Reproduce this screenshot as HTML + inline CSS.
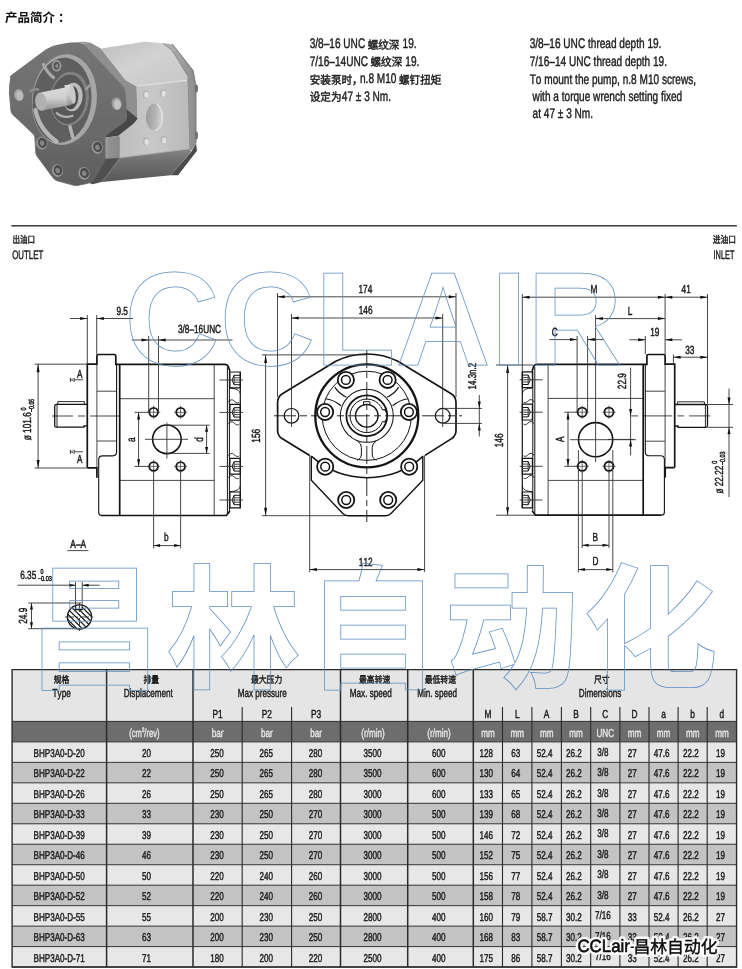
<!DOCTYPE html>
<html><head><meta charset="utf-8"><title>BHP3A0</title>
<style>
html,body{margin:0;padding:0;background:#fff}
body{width:742px;height:969px;overflow:hidden;position:relative;font-family:"Liberation Sans","Noto Sans CJK SC",sans-serif}
svg{position:absolute;left:0;top:0;display:block}
svg text{font-family:"Liberation Sans","Noto Sans CJK SC",sans-serif;font-kerning:none;white-space:pre;text-rendering:geometricPrecision;stroke-width:.45px;paint-order:stroke}
svg{will-change:transform}
</style></head><body>
<svg width="742" height="969" viewBox="0 0 742 969">
<desc>产品简介： 螺纹深 安装泵时，螺钉扭矩 设定为 出油口 进油口 规格 排量 最大压力 最高转速 最低转速 尺寸 CCLAIR 昌林自动化</desc>
<rect width="742" height="969" fill="#fff"/>
<g id="pump">
<defs>
<filter id="pb" x="-5%" y="-5%" width="110%" height="110%"><feGaussianBlur stdDeviation=".55"/></filter>
<linearGradient id="gTop" x1="0" y1="0" x2="1" y2="1"><stop offset="0" stop-color="#bdbdbd"/><stop offset=".45" stop-color="#d2d2d2"/><stop offset="1" stop-color="#c6c6c6"/></linearGradient>
<linearGradient id="gSide" x1="0" y1="0" x2="1" y2="0"><stop offset="0" stop-color="#bdbdbd"/><stop offset=".5" stop-color="#c8c8c8"/><stop offset="1" stop-color="#bababa"/></linearGradient>
<linearGradient id="gCov" x1="0" y1="0" x2="1" y2="0"><stop offset="0" stop-color="#b8b8b8"/><stop offset="1" stop-color="#8c8c8c"/></linearGradient>
<linearGradient id="gCh" x1="0" y1="0" x2="0" y2="1"><stop offset="0" stop-color="#858585"/><stop offset=".3" stop-color="#737373"/><stop offset="1" stop-color="#585858"/></linearGradient>
<linearGradient id="gFl" x1="0" y1="0" x2="0" y2="1"><stop offset="0" stop-color="#757575"/><stop offset=".6" stop-color="#6a6a6a"/><stop offset="1" stop-color="#5e5e5e"/></linearGradient>
<linearGradient id="gSh" x1="0" y1="0" x2="0" y2="1"><stop offset="0" stop-color="#dcdcdc"/><stop offset=".45" stop-color="#cfcfcf"/><stop offset="1" stop-color="#8e8e8e"/></linearGradient>
<linearGradient id="gPort" x1="0" y1="0" x2="1" y2="0"><stop offset="0" stop-color="#9c9c9c"/><stop offset=".55" stop-color="#b4b4b4"/><stop offset="1" stop-color="#dadada"/></linearGradient>
<radialGradient id="gBolt"><stop offset="0" stop-color="#8a8a8a"/><stop offset=".45" stop-color="#7c7c7c"/><stop offset=".55" stop-color="#4e4e4e"/><stop offset=".8" stop-color="#565656"/><stop offset="1" stop-color="#8a8a8a"/></radialGradient>
</defs>
<g filter="url(#pb)"><polygon points="163,43.2 172.4,44.2 193.2,70.6 196,86.6 196,143.2 191.3,150.8 189.4,148.9 187.5,80.9 188.5,77.2 172.5,50.8" fill="url(#gCov)"/><ellipse cx="196.4" cy="88.5" rx="1.6" ry="4" fill="#6a6a6a"/><ellipse cx="196.4" cy="135.6" rx="1.6" ry="4" fill="#6a6a6a"/><polygon points="191.3,151.7 196,143.2 197,150.8 178.1,175.3 170.6,175.3" fill="#4c4c4c"/><polygon points="97.9,48.9 144.2,41.7 163,43.2 172.5,50.8 188.5,77.2 187.5,80.9 136.6,86.6 125.3,80" fill="url(#gTop)"/><path d="M136.6 86.2L187.6 80.4" stroke="#dedede" stroke-width="1.6" fill="none"/><path d="M163 43.2L172.5 50.8L188.5 77.2L187.5 80.9L189.4 148.9" stroke="#7e7e7e" stroke-width=".9" fill="none"/><path d="M185.4 82L187 148.6" stroke="#d2d2d2" stroke-width="1.6" fill="none"/><path d="M172.4 44.2L193.2 70.6L196 86.6V143.2" stroke="#7a7a7a" stroke-width="1" fill="none"/><polygon points="136.6,86.6 187.5,80.9 189.4,148.9 119.8,157.8 118.6,135.7 137.5,118.7" fill="url(#gSide)"/><ellipse cx="154.5" cy="116.8" rx="8.6" ry="13.2" fill="url(#gPort)" transform="rotate(4 154.5 116.8)"/><path d="M157 104Q164.6 112 161.6 124Q159.6 129.4 155 130" stroke="#e4e4e4" stroke-width="1.2" fill="none"/><ellipse cx="145.7" cy="94.2" rx="3" ry="4" fill="#b4b4b4"/><ellipse cx="146.4" cy="94.8" rx="2.1" ry="3" fill="#e2e2e2"/><ellipse cx="163" cy="93.2" rx="3" ry="4" fill="#b4b4b4"/><ellipse cx="163.7" cy="93.8" rx="2.1" ry="3" fill="#e2e2e2"/><ellipse cx="146" cy="141.3" rx="3" ry="4" fill="#b4b4b4"/><ellipse cx="146.7" cy="141.9" rx="2.1" ry="3" fill="#e2e2e2"/><ellipse cx="163.4" cy="139.8" rx="3" ry="4" fill="#b4b4b4"/><ellipse cx="164.1" cy="140.4" rx="2.1" ry="3" fill="#e2e2e2"/><polygon points="119.8,157.8 189.4,148.9 191.3,151.7 170.6,175.3 102,182" fill="url(#gCh)"/><path d="M119.8 157.8L189.4 148.9" stroke="#a6a6a6" stroke-width=".8" fill="none"/><path d="M119.8 158L102.2 181.8" stroke="#9a9a9a" stroke-width=".7" fill="none"/><polygon points="79.2,43.6 90.6,42.8 100,47.9 125.3,80 136.6,86.6 137.5,118.7 125.5,109.2 124.5,88.5 117,80 88.7,49.8" fill="#8f8f8f"/><polygon points="62.3,44.2 79.2,43.6 90.6,42.8 84,41.8 70,42.4" fill="#999"/><polygon points="125.3,108.2 137.8,118.4 133.6,123.4 118.1,135.9 105.2,137.8 105.2,135.2 125,121 126.6,116.5" fill="#474747"/><polygon points="102,156 119.8,157.8 102.2,181.8 92.8,184.2 89,183" fill="#505050"/><linearGradient id="gBox" x1="0" y1="0" x2="1" y2="0"><stop offset="0" stop-color="#a2a2a2"/><stop offset=".25" stop-color="#919191"/><stop offset="1" stop-color="#888"/></linearGradient><polygon points="105.2,137.4 118.1,135.8 119.8,137 119.8,158 105.2,158.8" fill="url(#gBox)"/><path d="M10.6 78Q9.6 76.8 11.6 75.2L45.6 50Q52 45.6 62.3 44.2Q72 42.8 79.2 43.6Q84.6 44.6 88.7 49.8L117 80L123.4 87Q125 89 125.1 92L126.2 108Q127 115.6 126 119.2Q125.4 121 123.6 122.4L106.4 134.8Q105.1 135.8 105.1 138L105.3 156Q105.3 159 103.6 162.4L92.6 181Q90.6 182.8 87 183.6L78 185.4Q75.5 185.9 72.6 185L57 180.8Q54.7 180 53 177.8L37 156.2Q35.8 154.5 35.7 152L34.9 138Q34.9 135.7 33.2 134L12.4 114.2Q11 112.6 10.8 110L9.4 93Q9.2 86 10.6 78Z" fill="url(#gFl)" stroke="#6c6c6c" stroke-width=".8" stroke-linejoin="round"/><ellipse cx="18.9" cy="95.1" rx="4.6" ry="6" fill="#a9a9a9" transform="rotate(-10 18.9 95.1)"/><ellipse cx="19.8" cy="95.8" rx="3.2" ry="4.6" fill="#bcbcbc" transform="rotate(-10 19.8 95.8)"/><ellipse cx="116.6" cy="103.8" rx="5" ry="6.4" fill="#9c9c9c" transform="rotate(-8 116.6 103.8)"/><ellipse cx="117.4" cy="104.4" rx="3.6" ry="5" fill="#c4c4c4" transform="rotate(-8 117.4 104.4)"/><ellipse cx="64.4" cy="99.6" rx="32.4" ry="45.4" fill="#a6a6a6" transform="rotate(6 64.4 99.6)"/><ellipse cx="62" cy="100.2" rx="29.4" ry="42.6" fill="#5f5f5f" transform="rotate(6 62 100.2)"/><path d="M35.4 110Q39.6 130 56.6 141.4" stroke="#b6b6b6" stroke-width="4.2" fill="none" stroke-linecap="round"/><ellipse cx="69.4" cy="98.6" rx="19.4" ry="27" fill="#808080" transform="rotate(6 69.4 98.6)"/><ellipse cx="68.4" cy="99.2" rx="17.2" ry="24.6" fill="#585858" transform="rotate(6 68.4 99.2)"/><path d="M43.4 64.4Q47 72.6 53.6 77.6" stroke="#a8a8a8" stroke-width="3.2" fill="none" stroke-linecap="round"/><path d="M70 126.6L72.8 137.4" stroke="#b4b4b4" stroke-width="3.4" fill="none" stroke-linecap="round"/><path d="M86 89L90.4 85" stroke="#9c9c9c" stroke-width="2.4" fill="none" stroke-linecap="round"/><path d="M30.6 91Q34 88.6 38 89.6" stroke="#8c8c8c" stroke-width="2.6" fill="none" stroke-linecap="round"/><ellipse cx="56.6" cy="65.8" rx="4.8" ry="5.8" fill="#9c9c9c"/><ellipse cx="56.6" cy="65.8" rx="3.1" ry="4" fill="#585858"/><ellipse cx="56.9" cy="66.1" rx="1.5" ry="2" fill="#8c8c8c"/><ellipse cx="72.8" cy="97" rx="9.8" ry="14.4" fill="#bcbcbc" transform="rotate(6 72.8 97)"/><ellipse cx="71" cy="97.6" rx="7.4" ry="11.8" fill="#4e4e4e" transform="rotate(6 71 97.6)"/><path d="M56 112.6Q64 119.6 73.4 115.4" stroke="#b0b0b0" stroke-width="2.2" fill="none"/><polygon points="40.6,92.6 66.4,87.2 69.6,104.9 42.4,110.8" fill="url(#gSh)"/><polygon points="64.4,85.2 70.8,84.6 74.2,103.6 67.8,105.8" fill="url(#gSh)"/><ellipse cx="72.6" cy="94" rx="2.9" ry="9.6" fill="#c9c9c9" transform="rotate(-9 72.6 94)"/><ellipse cx="40.8" cy="101.7" rx="5.6" ry="9.2" fill="#b0b0b0" transform="rotate(-6 40.8 101.7)"/><ellipse cx="41.9" cy="143.2" rx="5.6" ry="6.4" fill="#989898" transform="rotate(-15 41.9 143.2)"/><ellipse cx="42.4" cy="142.8" rx="4.4" ry="5.2" fill="#4c4c4c" transform="rotate(-15 42.4 142.8)"/><ellipse cx="42.1" cy="143.2" rx="2.3" ry="2.7" fill="#858585" transform="rotate(-15 42.1 143.2)"/><ellipse cx="97.2" cy="147.4" rx="5.6" ry="6.4" fill="#989898" transform="rotate(-15 97.2 147.4)"/><ellipse cx="97.7" cy="147" rx="4.4" ry="5.2" fill="#4c4c4c" transform="rotate(-15 97.7 147)"/><ellipse cx="97.4" cy="147.4" rx="2.3" ry="2.7" fill="#858585" transform="rotate(-15 97.4 147.4)"/><ellipse cx="57.5" cy="170.6" rx="5.6" ry="6.4" fill="#989898" transform="rotate(-15 57.5 170.6)"/><ellipse cx="58" cy="170.2" rx="4.4" ry="5.2" fill="#4c4c4c" transform="rotate(-15 58 170.2)"/><ellipse cx="57.7" cy="170.6" rx="2.3" ry="2.7" fill="#858585" transform="rotate(-15 57.7 170.6)"/><ellipse cx="84" cy="173.4" rx="5.6" ry="6.4" fill="#989898" transform="rotate(-15 84 173.4)"/><ellipse cx="84.5" cy="173" rx="4.4" ry="5.2" fill="#4c4c4c" transform="rotate(-15 84.5 173)"/><ellipse cx="84.2" cy="173.4" rx="2.3" ry="2.7" fill="#858585" transform="rotate(-15 84.2 173.4)"/></g>
</g>
<g id="top">
<text transform="translate(5 21.7)" font-size="12.5" font-weight="bold" fill="#111">产品简介<tspan dx="3">：</tspan></text>
<text transform="translate(309.7 48.2) translate(0 0) scale(0.72 1)" font-size="14" fill="#1c1c1c" stroke="#1c1c1c">3/8–16 UNC </text><text transform="translate(367.65 48.5) scale(0.93 1)" font-size="11.4" fill="#1c1c1c" stroke="#1c1c1c">螺纹深</text><text transform="translate(399.73 48.2) translate(0 0) scale(0.72 1)" font-size="14" fill="#1c1c1c" stroke="#1c1c1c"> 19.</text>
<text transform="translate(309.7 65.5) translate(0 0) scale(0.72 1)" font-size="14" fill="#1c1c1c" stroke="#1c1c1c">7/16–14UNC </text><text transform="translate(370.44 65.8) scale(0.93 1)" font-size="11.4" fill="#1c1c1c" stroke="#1c1c1c">螺纹深</text><text transform="translate(402.52 65.5) translate(0 0) scale(0.72 1)" font-size="14" fill="#1c1c1c" stroke="#1c1c1c"> 19.</text>
<text transform="translate(309.7 83.5) scale(0.93 1)" font-size="11.4" fill="#1c1c1c" stroke="#1c1c1c">安装泵时，</text><text transform="translate(359.97 83.2) translate(0 0) scale(0.72 1)" font-size="14" fill="#1c1c1c" stroke="#1c1c1c">n.8 M10 </text><text transform="translate(398.97 83.5) scale(0.93 1)" font-size="11.4" fill="#1c1c1c" stroke="#1c1c1c">螺钉扭矩</text>
<text transform="translate(309.7 100.9) scale(0.93 1)" font-size="11.4" fill="#1c1c1c" stroke="#1c1c1c">设定为</text><text transform="translate(341.78 100.6) translate(0 0) scale(0.72 1)" font-size="14" fill="#1c1c1c" stroke="#1c1c1c">47 ± 3 Nm.</text>
<text transform="translate(529.7 48.2) translate(0 0) scale(0.72 1)" font-size="14" fill="#1c1c1c" stroke="#1c1c1c">3/8–16 UNC thread depth 19.</text>
<text transform="translate(529.7 65.7) translate(0 0) scale(0.72 1)" font-size="14" fill="#1c1c1c" stroke="#1c1c1c">7/16–14 UNC thread depth 19.</text>
<text transform="translate(529.7 83.6) translate(0 0) scale(0.72 1)" font-size="14" fill="#1c1c1c" stroke="#1c1c1c">To mount the pump, n.8 M10 screws,</text>
<text transform="translate(532.6 100.8) translate(0 0) scale(0.72 1)" font-size="14" fill="#1c1c1c" stroke="#1c1c1c">with a torque wrench setting fixed</text>
<text transform="translate(532.6 118.4) translate(0 0) scale(0.72 1)" font-size="14" fill="#1c1c1c" stroke="#1c1c1c">at 47 ± 3 Nm.</text>
<rect x="11.3" y="225.1" width="725.5" height="1.4" fill="#2a2a2a"/>
<text transform="translate(12.5 242.5) scale(0.78 1)" font-size="9.7" fill="#1c1c1c" stroke="#1c1c1c">出油口</text>
<text transform="translate(12.2 258.6) translate(0 0) scale(0.64 1)" font-size="12.3" fill="#1c1c1c" stroke="#1c1c1c">OUTLET</text>
<text transform="translate(712.8 242.5) scale(0.8 1)" font-size="9.7" fill="#1c1c1c" stroke="#1c1c1c">进油口</text>
<text transform="translate(713.5 258.6) translate(0 0) scale(0.6 1)" font-size="12.3" fill="#1c1c1c" stroke="#1c1c1c">INLET</text>
</g>
<g id="draw">
<g id="lv"><path d="M96.9 364.2V467.8M96.9 391.2H116.6M96.9 441H116.6M119.7 398.7H214.2M119.7 480.4H214.2M214.2 364.4V515.5" fill="none" stroke="#333" stroke-width="0.9"/><path d="M52 416H119" fill="none" stroke="#333" stroke-width="0.9"stroke-dasharray="21 5 7 5 29 0"/><path d="M116.6 364.4V451.6Q116.6 455.9 112.6 455.9H102.6Q98.7 455.9 98.7 459.6V512.6Q98.7 515.5 101.6 515.5" fill="none" stroke="#141414" stroke-width="1.1"/><path d="M87.3 467.8V364.2H96.9V356Q96.9 354.5 98.4 354.5H114.3Q115.8 354.5 115.8 356V364.4H225.2Q227.4 364.5 228.3 366.6L229.9 371M119.7 364.4V515.5M101 515.5H226.4L229.9 511M87.3 467.8H96.9V477.8" fill="none" stroke="#141414" stroke-width="1.7"/><path d="M87.3 404.4H56.4Q54.7 404.4 54.7 406.1V425.4Q54.7 427.1 56.4 427.1H84V425.9H87.3" fill="none" stroke="#141414" stroke-width="1.3"/><path d="M57 404.4V427.1M57.8 404.4V401.6H84.4V404.4" fill="none" stroke="#141414" stroke-width="0.9"/><circle cx="153.6" cy="412.3" r="4.35" fill="none" stroke="#141414" stroke-width="1.85"/><path d="M147 412.3H160.2M153.6 405.7V418.9" fill="none" stroke="#3c3c3c" stroke-width="0.75"/><circle cx="153.6" cy="466.4" r="4.35" fill="none" stroke="#141414" stroke-width="1.85"/><path d="M147 466.4H160.2M153.6 459.8V473" fill="none" stroke="#3c3c3c" stroke-width="0.75"/><circle cx="180.6" cy="412.3" r="4.35" fill="none" stroke="#141414" stroke-width="1.85"/><path d="M174 412.3H187.2M180.6 405.7V418.9" fill="none" stroke="#3c3c3c" stroke-width="0.75"/><circle cx="180.6" cy="466.4" r="4.35" fill="none" stroke="#141414" stroke-width="1.85"/><path d="M174 466.4H187.2M180.6 459.8V473" fill="none" stroke="#3c3c3c" stroke-width="0.75"/><circle cx="166.9" cy="439.3" r="14.3" fill="none" stroke="#141414" stroke-width="1.6"/><path d="M145 439.3H188M166.9 422.6V458.5" fill="none" stroke="#333" stroke-width="0.9"/><path d="M227.4 367V513.5M229.4 371V511.5" fill="none" stroke="#141414" stroke-width="1"/><path d="M240.3 372V508" fill="none" stroke="#141414" stroke-width="1.2"/><path d="M229.9 372H240.3V387.8H229.9Z" fill="none" stroke="#141414" stroke-width="1.2"/><path d="M240.3 375.3H234.1L232 380L234.1 384.7H240.3" fill="none" stroke="#141414" stroke-width="1"/><path d="M234.1 375.3V384.7" fill="none" stroke="#141414" stroke-width="0.8"/><path d="M234.1 377.8H240.3M234.1 382.2H240.3" fill="none" stroke="#333" stroke-width="0.9"/><path d="M219.5 380H243" fill="none" stroke="#333" stroke-width="0.9"/><path d="M229.9 404.4H240.3V420.2H229.9Z" fill="none" stroke="#141414" stroke-width="1.2"/><path d="M240.3 407.7H234.1L232 412.4L234.1 417.1H240.3" fill="none" stroke="#141414" stroke-width="1"/><path d="M234.1 407.7V417.1" fill="none" stroke="#141414" stroke-width="0.8"/><path d="M234.1 410.2H240.3M234.1 414.6H240.3" fill="none" stroke="#333" stroke-width="0.9"/><path d="M219.5 412.4H243" fill="none" stroke="#333" stroke-width="0.9"/><path d="M229.9 458.4H240.3V474.2H229.9Z" fill="none" stroke="#141414" stroke-width="1.2"/><path d="M240.3 461.7H234.1L232 466.4L234.1 471.1H240.3" fill="none" stroke="#141414" stroke-width="1"/><path d="M234.1 461.7V471.1" fill="none" stroke="#141414" stroke-width="0.8"/><path d="M234.1 464.2H240.3M234.1 468.6H240.3" fill="none" stroke="#333" stroke-width="0.9"/><path d="M219.5 466.4H243" fill="none" stroke="#333" stroke-width="0.9"/><path d="M229.9 492H240.3V507.8H229.9Z" fill="none" stroke="#141414" stroke-width="1.2"/><path d="M240.3 495.3H234.1L232 500L234.1 504.7H240.3" fill="none" stroke="#141414" stroke-width="1"/><path d="M234.1 495.3V504.7" fill="none" stroke="#141414" stroke-width="0.8"/><path d="M234.1 497.8H240.3M234.1 502.2H240.3" fill="none" stroke="#333" stroke-width="0.9"/><path d="M219.5 500H243" fill="none" stroke="#333" stroke-width="0.9"/><path d="M229.9 388.2C235.9 388.4 239.7 390 240.3 394M229.9 491.6C235.9 491.4 239.7 489.8 240.3 485.8M228.3 401.8C230.46 399.6 232.08 399.16 233.7 400.7S237.48 403.78 239.1 402.24M228.3 423.8C230.46 421.6 232.08 421.16 233.7 422.7S237.48 425.78 239.1 424.24M228.3 455.4C230.46 453.2 232.08 452.76 233.7 454.3S237.48 457.38 239.1 455.84M228.3 477.6C230.46 475.4 232.08 474.96 233.7 476.5S237.48 479.58 239.1 478.04" fill="none" stroke="#141414" stroke-width="0.9"/><path d="M70 318.5H87.3M96.7 318.5H133M87.3 315V364M96.7 315V354.5" fill="none" stroke="#333" stroke-width="0.9"/><polygon points="87.3,318.5 80.1,317 80.1,320" fill="#111"/><polygon points="96.7,318.5 103.9,317 103.9,320" fill="#111"/><text transform="translate(122.2 315.2) translate(-5.74 0) scale(0.7 1)" font-size="11.8" fill="#161616" stroke="#161616">9.5</text><path d="M131.8 340H232.5M148.7 336V412M158.5 336V412" fill="none" stroke="#333" stroke-width="0.9"/><polygon points="148.7,340 141.5,338.5 141.5,341.5" fill="#111"/><polygon points="158.5,340 165.7,338.5 165.7,341.5" fill="#111"/><text transform="translate(199.5 333.4) translate(-21.58 0) scale(0.7 1)" font-size="11.8" fill="#161616" stroke="#161616">3/8–16UNC</text><path d="M34.6 364.2H87.3M34.6 468H87.3M38.1 364.2V468" fill="none" stroke="#333" stroke-width="0.9"/><polygon points="38.1,364.2 36.6,372.2 39.6,372.2" fill="#111"/><polygon points="38.1,468 36.6,460 39.6,460" fill="#111"/><text transform="translate(31.4 440.2) rotate(-90) translate(0 0) scale(0.71 1)" font-size="11.6" fill="#161616" stroke="#161616">ø 101.6</text><text transform="translate(25.8 410.6) rotate(-90) translate(0 0) scale(0.74 1)" font-size="7.4" fill="#161616" stroke="#161616">0</text><text transform="translate(33.9 412) rotate(-90) translate(0 0) scale(0.71 1)" font-size="7.4" fill="#161616" stroke="#161616">−0.05</text><path d="M134.6 412.3H148.6M134.6 466.4H148.6M138.6 412.3V466.4" fill="none" stroke="#333" stroke-width="0.9"/><polygon points="138.6,412.3 137.1,419.5 140.1,419.5" fill="#111"/><polygon points="138.6,466.4 137.1,459.2 140.1,459.2" fill="#111"/><text transform="translate(134.6 439.6) rotate(-90) translate(-2.3 0) scale(0.7 1)" font-size="11.8" fill="#161616" stroke="#161616">a</text><path d="M167 425.2H209.7M167 453.4H209.7M206.6 425.2V453.4" fill="none" stroke="#333" stroke-width="0.9"/><polygon points="206.6,425.2 205.1,431.7 208.1,431.7" fill="#111"/><polygon points="206.6,453.4 205.1,446.9 208.1,446.9" fill="#111"/><text transform="translate(202.6 439.4) rotate(-90) translate(-2.3 0) scale(0.7 1)" font-size="11.8" fill="#161616" stroke="#161616">d</text><path d="M153.6 471.5V548.4M180.6 471.5V548.4M153.6 545.6H180.6" fill="none" stroke="#333" stroke-width="0.9"/><polygon points="153.6,545.6 160.1,544.1 160.1,547.1" fill="#111"/><polygon points="180.6,545.6 174.1,544.1 174.1,547.1" fill="#111"/><text transform="translate(166.4 541.2) translate(-2.3 0) scale(0.7 1)" font-size="11.8" fill="#161616" stroke="#161616">b</text><path d="M70.4 377.8V381.8" fill="none" stroke="#141414" stroke-width="0.9"/><polygon points="71.2,379.8 74.4,378.2 74.4,381.4" fill="none" stroke="#222" stroke-width=".7"/><path d="M74.4 379.8H83" fill="none" stroke="#333" stroke-width="0.9"/><text transform="translate(79.7 378.3) translate(-2.71 0) scale(0.7 1)" font-size="11.6" fill="#161616" stroke="#161616">A</text><path d="M70.4 449.8V453.8" fill="none" stroke="#141414" stroke-width="0.9"/><polygon points="71.2,451.8 74.4,450.2 74.4,453.4" fill="none" stroke="#222" stroke-width=".7"/><path d="M74.4 451.8H83" fill="none" stroke="#333" stroke-width="0.9"/><text transform="translate(79.7 462.8) translate(-2.71 0) scale(0.7 1)" font-size="11.6" fill="#161616" stroke="#161616">A</text></g>
<g id="sec"><text transform="translate(78.2 547.8) translate(-7.89 0) scale(0.72 1)" font-size="11.6" fill="#161616" stroke="#161616">A–A</text><path d="M67.4 550.6H88.4" fill="none" stroke="#333" stroke-width="0.9"/><clipPath id="hc"><circle cx="79.5" cy="617" r="12.1"/></clipPath><path d="M39.98 597L79.98 637M45.31 597L85.31 637M50.64 597L90.64 637M55.97 597L95.97 637M61.3 597L101.3 637M66.63 597L106.63 637M71.96 597L111.96 637M77.29 597L117.29 637" stroke="#1c1c1c" stroke-width="1.25" fill="none" clip-path="url(#hc)"/><rect x="75.6" y="603" width="6.6" height="6.6" fill="#fff"/><circle cx="79.5" cy="617" r="12.1" fill="none" stroke="#141414" stroke-width="1.3"/><path d="M75.6 605.5V609.6H82.2V605.5" fill="none" stroke="#141414" stroke-width="1.1"/><path d="M65 617H94M79.5 603V632" fill="none" stroke="#333" stroke-width="0.9"stroke-dasharray="9 2 2 2"/><path d="M17.5 585.2H75.5M82.2 585.2H99.7M75.5 582V606M82.2 582V606" fill="none" stroke="#333" stroke-width="0.9"/><polygon points="75.5,585.2 69,583.7 69,586.7" fill="#111"/><polygon points="82.2,585.2 88.7,583.7 88.7,586.7" fill="#111"/><text transform="translate(20.2 579.4) translate(0 0) scale(0.7 1)" font-size="11.8" fill="#161616" stroke="#161616">6.35</text><text transform="translate(40.4 573.6) translate(0 0) scale(0.74 1)" font-size="7.2" fill="#161616" stroke="#161616">0</text><text transform="translate(37.7 580.9) translate(0 0) scale(0.78 1)" font-size="7.2" fill="#161616" stroke="#161616">−0.03</text><path d="M28.3 603H81M28.3 628.7H80M31.5 603V628.7" fill="none" stroke="#333" stroke-width="0.9"/><polygon points="31.5,603 30,609.5 33,609.5" fill="#111"/><polygon points="31.5,628.7 30,622.2 33,622.2" fill="#111"/><text transform="translate(27 615.8) rotate(-90) translate(-8.04 0) scale(0.7 1)" font-size="11.8" fill="#161616" stroke="#161616">24.9</text></g>
<g id="fv"><path d="M274 415.8H462" fill="none" stroke="#2a2a2a" stroke-width="1" stroke-dasharray="22 4 7 4"/><path d="M366.8 350V522" fill="none" stroke="#2a2a2a" stroke-width="1" stroke-dasharray="18 4 6 4"/><path d="M311.3 455.8V480.2L342.6 513.3Q344.8 515.7 348 515.7H385.8Q389 515.7 391.2 513.3L422.8 480.2V455.8" fill="none" stroke="#141414" stroke-width="1.4"/><path d="M309.7 455.4V572M424.6 455.4V572" fill="none" stroke="#333" stroke-width="0.9"/><path d="M277.6 430.4V402.4Q277.6 396.4 282.8 393.4L335.7 361.3A70 70 0 0 1 397.9 361.3L450.8 393.4Q456 396.4 456 402.4V430.4Q456 435.4 451.6 438.6L425 455.4M277.6 430.4Q277.6 435.4 282 438.6L309.7 455.4" fill="none" stroke="#141414" stroke-width="1.7"/><path d="M311.6 456.4A83.6 83.6 0 0 0 423 456.4" fill="none" stroke="#141414" stroke-width="1.5"/><circle cx="291.5" cy="415.8" r="7.3" fill="none" stroke="#141414" stroke-width="1.2"/><circle cx="442.7" cy="415.8" r="7.4" fill="none" stroke="#141414" stroke-width="1.2"/><circle cx="366.8" cy="415.8" r="51.5" fill="none" stroke="#141414" stroke-width="2.3"/><circle cx="366.8" cy="415.8" r="44.6" fill="none" stroke="#141414" stroke-width="1"/><circle cx="366.8" cy="415.8" r="26.5" fill="none" stroke="#141414" stroke-width="1.05"/><circle cx="366.8" cy="415.8" r="20.4" fill="none" stroke="#141414" stroke-width="1.8"/><circle cx="366.8" cy="415.8" r="11.3" fill="none" stroke="#141414" stroke-width="1.4"/><path d="M382.59 410.05A16.8 16.8 0 1 0 382.59 421.55" fill="none" stroke="#141414" stroke-width="1"/><path d="M382.59 410.05l2.6 -0.6l0.4 2.4M382.59 421.55l2.6 0.6l0.4 -2.4" fill="none" stroke="#141414" stroke-width="1.1"/><path d="M363.5 404.8V401.7H369.9V404.8" fill="none" stroke="#141414" stroke-width="1"/><path d="M334.8 387.1Q338.7 393.3 346.4 397.2M325.5 398.7Q333.2 399.5 341 405.7M398.8 387.1Q394.9 393.3 387.2 397.2M408.1 398.7Q400.4 399.5 392.6 405.7" fill="none" stroke="#141414" stroke-width="1.15"/><path d="M357.6 441.4Q361.4 443.4 361.4 447.4V454Q361.4 458.6 357 460.2M376 441.4Q372.2 443.4 372.2 447.4V454Q372.2 458.6 376.6 460.2" fill="none" stroke="#141414" stroke-width="1"/><circle cx="345.9" cy="379.9" r="8.1" fill="#fff"/><circle cx="345.9" cy="379.9" r="8.1" fill="none" stroke="#141414" stroke-width="1.8"/><circle cx="345.9" cy="379.9" r="4.4" fill="none" stroke="#141414" stroke-width="1.5"/><circle cx="387.6" cy="379.9" r="8.1" fill="#fff"/><circle cx="387.6" cy="379.9" r="8.1" fill="none" stroke="#141414" stroke-width="1.8"/><circle cx="387.6" cy="379.9" r="4.4" fill="none" stroke="#141414" stroke-width="1.5"/><circle cx="325.1" cy="412" r="8.1" fill="#fff"/><circle cx="325.1" cy="412" r="8.1" fill="none" stroke="#141414" stroke-width="1.8"/><circle cx="325.1" cy="412" r="4.4" fill="none" stroke="#141414" stroke-width="1.5"/><circle cx="408.9" cy="412" r="8.1" fill="#fff"/><circle cx="408.9" cy="412" r="8.1" fill="none" stroke="#141414" stroke-width="1.8"/><circle cx="408.9" cy="412" r="4.4" fill="none" stroke="#141414" stroke-width="1.5"/><circle cx="325.2" cy="466.7" r="8.1" fill="#fff"/><circle cx="325.2" cy="466.7" r="8.1" fill="none" stroke="#141414" stroke-width="1.8"/><circle cx="325.2" cy="466.7" r="4.4" fill="none" stroke="#141414" stroke-width="1.5"/><circle cx="409.2" cy="466.7" r="8.1" fill="#fff"/><circle cx="409.2" cy="466.7" r="8.1" fill="none" stroke="#141414" stroke-width="1.8"/><circle cx="409.2" cy="466.7" r="4.4" fill="none" stroke="#141414" stroke-width="1.5"/><circle cx="346.2" cy="500" r="8.1" fill="#fff"/><circle cx="346.2" cy="500" r="8.1" fill="none" stroke="#141414" stroke-width="1.8"/><circle cx="346.2" cy="500" r="4.4" fill="none" stroke="#141414" stroke-width="1.5"/><circle cx="388.2" cy="500" r="8.1" fill="#fff"/><circle cx="388.2" cy="500" r="8.1" fill="none" stroke="#141414" stroke-width="1.8"/><circle cx="388.2" cy="500" r="4.4" fill="none" stroke="#141414" stroke-width="1.5"/><path d="M277.5 293V397M456 293V397M291.5 314V427M442.7 314V427" fill="none" stroke="#333" stroke-width="0.9"/><path d="M277.5 296.8H456M291.5 318H442.7" fill="none" stroke="#333" stroke-width="0.9"/><polygon points="277.5,296.8 284.7,295.3 284.7,298.3" fill="#111"/><polygon points="456,296.8 448.8,295.3 448.8,298.3" fill="#111"/><polygon points="291.5,318 298.7,316.5 298.7,319.5" fill="#111"/><polygon points="442.7,318 435.5,316.5 435.5,319.5" fill="#111"/><text transform="translate(365.4 293) translate(-6.89 0) scale(0.7 1)" font-size="11.8" fill="#161616" stroke="#161616">174</text><text transform="translate(365.6 314.4) translate(-6.89 0) scale(0.7 1)" font-size="11.8" fill="#161616" stroke="#161616">146</text><path d="M262 354.9H366.8M262 515.7H345M265.6 354.9V515.7" fill="none" stroke="#333" stroke-width="0.9"/><polygon points="265.6,354.9 264.1,362.9 267.1,362.9" fill="#111"/><polygon points="265.6,515.7 264.1,507.7 267.1,507.7" fill="#111"/><text transform="translate(259.6 435.8) rotate(-90) translate(-6.89 0) scale(0.7 1)" font-size="11.8" fill="#161616" stroke="#161616">156</text><path d="M309.7 569.6H424.6" fill="none" stroke="#333" stroke-width="0.9"/><polygon points="309.7,569.6 316.9,568.1 316.9,571.1" fill="#111"/><polygon points="424.6,569.6 417.4,568.1 417.4,571.1" fill="#111"/><text transform="translate(365.7 566) translate(-6.89 0) scale(0.7 1)" font-size="11.8" fill="#161616" stroke="#161616">112</text><path d="M442.7 408.4H482M442.7 423.4H482M479.3 395V436.5" fill="none" stroke="#333" stroke-width="0.9"/><polygon points="479.3,408.4 477.8,401.4 480.8,401.4" fill="#111"/><polygon points="479.3,423.4 477.8,430.4 480.8,430.4" fill="#111"/><text transform="translate(476 389.4) rotate(-90) translate(0 0) scale(0.7 1)" font-size="11.4" fill="#161616" stroke="#161616">14.3n.2</text></g>
<g id="rv"><path d="M665.1 364.2V467.6M645.3 391.2H665.1M645.3 441.2H665.1M548.1 398.4H643.2M548.1 480.4H643.2M548.1 365V515.2" fill="none" stroke="#333" stroke-width="0.9"/><path d="M710.2 415.9H627.8" fill="none" stroke="#333" stroke-width="0.9"stroke-dasharray="21 5 7 5 29 5 7 5"/><path d="M645.3 364.4V451.4Q645.3 455.8 649.4 455.8H660.4Q664.4 455.8 664.4 459.6V512.2Q664.4 515.2 661.4 515.2" fill="none" stroke="#141414" stroke-width="1.1"/><path d="M674.7 467.6V364.2H665.1V356Q665.1 354.5 663.6 354.5H648.4Q646.9 354.5 646.9 356V364.4H536.6Q534.4 364.5 533.6 366.6L532.2 371M643.2 364.4V515.2M661.6 515.2H535.6L532.2 511M674.7 467.6H665.2V477.6" fill="none" stroke="#141414" stroke-width="1.7"/><path d="M674.7 404.5H705.8Q707.5 404.5 707.5 406.2V425.6Q707.5 427.3 705.8 427.3H678V426H674.7" fill="none" stroke="#141414" stroke-width="1.3"/><path d="M705.4 404.5V427.3M704.4 404.5V401.8H677.6V404.5" fill="none" stroke="#141414" stroke-width="0.9"/><circle cx="582.2" cy="412.2" r="4.55" fill="none" stroke="#141414" stroke-width="1.85"/><path d="M575.6 412.2H588.8M582.2 405.6V418.8" fill="none" stroke="#3c3c3c" stroke-width="0.75"/><circle cx="582.2" cy="466.3" r="4.55" fill="none" stroke="#141414" stroke-width="1.85"/><path d="M575.6 466.3H588.8M582.2 459.7V472.9" fill="none" stroke="#3c3c3c" stroke-width="0.75"/><circle cx="609" cy="412.2" r="4.55" fill="none" stroke="#141414" stroke-width="1.85"/><path d="M602.4 412.2H615.6M609 405.6V418.8" fill="none" stroke="#3c3c3c" stroke-width="0.75"/><circle cx="609" cy="466.3" r="4.55" fill="none" stroke="#141414" stroke-width="1.85"/><path d="M602.4 466.3H615.6M609 459.7V472.9" fill="none" stroke="#3c3c3c" stroke-width="0.75"/><circle cx="595.6" cy="439.7" r="17.1" fill="none" stroke="#141414" stroke-width="1.6"/><path d="M570 439.7H636M595.6 315V462" fill="none" stroke="#333" stroke-width="0.9"/><path d="M534.8 367V513.5M532.8 371V511.5" fill="none" stroke="#141414" stroke-width="1"/><path d="M522.3 372V508" fill="none" stroke="#141414" stroke-width="1.2"/><path d="M522.3 371.8H532.4V387.6H522.3Z" fill="none" stroke="#141414" stroke-width="1.2"/><path d="M522.3 375.1H528.2L530.3 379.8L528.2 384.5H522.3" fill="none" stroke="#141414" stroke-width="1"/><path d="M528.2 375.1V384.5" fill="none" stroke="#141414" stroke-width="0.8"/><path d="M528.2 377.6H522.3M528.2 382H522.3" fill="none" stroke="#333" stroke-width="0.9"/><path d="M519.6 379.8H542.6" fill="none" stroke="#333" stroke-width="0.9"/><path d="M522.3 404.2H532.4V420H522.3Z" fill="none" stroke="#141414" stroke-width="1.2"/><path d="M522.3 407.5H528.2L530.3 412.2L528.2 416.9H522.3" fill="none" stroke="#141414" stroke-width="1"/><path d="M528.2 407.5V416.9" fill="none" stroke="#141414" stroke-width="0.8"/><path d="M528.2 410H522.3M528.2 414.4H522.3" fill="none" stroke="#333" stroke-width="0.9"/><path d="M519.6 412.2H542.6" fill="none" stroke="#333" stroke-width="0.9"/><path d="M522.3 458.3H532.4V474.1H522.3Z" fill="none" stroke="#141414" stroke-width="1.2"/><path d="M522.3 461.6H528.2L530.3 466.3L528.2 471H522.3" fill="none" stroke="#141414" stroke-width="1"/><path d="M528.2 461.6V471" fill="none" stroke="#141414" stroke-width="0.8"/><path d="M528.2 464.1H522.3M528.2 468.5H522.3" fill="none" stroke="#333" stroke-width="0.9"/><path d="M519.6 466.3H542.6" fill="none" stroke="#333" stroke-width="0.9"/><path d="M522.3 492H532.4V507.8H522.3Z" fill="none" stroke="#141414" stroke-width="1.2"/><path d="M522.3 495.3H528.2L530.3 500L528.2 504.7H522.3" fill="none" stroke="#141414" stroke-width="1"/><path d="M528.2 495.3V504.7" fill="none" stroke="#141414" stroke-width="0.8"/><path d="M528.2 497.8H522.3M528.2 502.2H522.3" fill="none" stroke="#333" stroke-width="0.9"/><path d="M519.6 500H542.6" fill="none" stroke="#333" stroke-width="0.9"/><path d="M532.4 388C526.4 388.2 522.9 389.8 522.3 393.8M532.4 491.6C526.4 491.4 522.9 489.8 522.3 485.8M534 401.6C531.9 399.4 530.33 398.96 528.75 400.5S525.08 403.58 523.5 402.04M534 423.6C531.9 421.4 530.33 420.96 528.75 422.5S525.08 425.58 523.5 424.04M534 455.3C531.9 453.1 530.33 452.66 528.75 454.2S525.08 457.28 523.5 455.74M534 477.5C531.9 475.3 530.33 474.86 528.75 476.4S525.08 479.48 523.5 477.94" fill="none" stroke="#141414" stroke-width="0.9"/><path d="M522.3 294V371.5M665.1 294V354.5M707.5 294V404" fill="none" stroke="#333" stroke-width="0.9"/><path d="M522.3 297.2H707.5" fill="none" stroke="#333" stroke-width="0.9"/><polygon points="522.3,297.2 529.5,295.7 529.5,298.7" fill="#111"/><polygon points="665.1,297.2 657.9,295.7 657.9,298.7" fill="#111"/><polygon points="665.1,297.2 672.3,295.7 672.3,298.7" fill="#111"/><polygon points="707.5,297.2 700.3,295.7 700.3,298.7" fill="#111"/><text transform="translate(594 293) translate(-3.44 0) scale(0.7 1)" font-size="11.8" fill="#161616" stroke="#161616">M</text><text transform="translate(686.2 293) translate(-4.59 0) scale(0.7 1)" font-size="11.8" fill="#161616" stroke="#161616">41</text><path d="M595.6 318.6H665.1" fill="none" stroke="#333" stroke-width="0.9"/><polygon points="595.6,318.6 602.8,317.1 602.8,320.1" fill="#111"/><polygon points="665.1,318.6 657.9,317.1 657.9,320.1" fill="#111"/><text transform="translate(630 314.6) translate(-2.3 0) scale(0.7 1)" font-size="11.8" fill="#161616" stroke="#161616">L</text><path d="M549.4 339.6H577.1M587.6 339.6H603.8M577.1 336V412M587.6 336V412" fill="none" stroke="#333" stroke-width="0.9"/><polygon points="577.1,339.6 569.9,338.1 569.9,341.1" fill="#111"/><polygon points="587.6,339.6 594.8,338.1 594.8,341.1" fill="#111"/><text transform="translate(554.8 336) translate(-2.98 0) scale(0.7 1)" font-size="11.8" fill="#161616" stroke="#161616">C</text><path d="M629.4 339.8H645.3M665.1 339.8H682M645.3 336V354.5" fill="none" stroke="#333" stroke-width="0.9"/><polygon points="645.3,339.8 638.1,338.3 638.1,341.3" fill="#111"/><polygon points="665.1,339.8 672.3,338.3 672.3,341.3" fill="#111"/><text transform="translate(654.8 335.8) translate(-4.59 0) scale(0.7 1)" font-size="11.8" fill="#161616" stroke="#161616">19</text><path d="M673.4 357.2H707.5M673.4 354.5V364.2" fill="none" stroke="#333" stroke-width="0.9"/><polygon points="673.4,357.2 680.6,355.7 680.6,358.7" fill="#111"/><polygon points="707.5,357.2 700.3,355.7 700.3,358.7" fill="#111"/><text transform="translate(689.8 353.6) translate(-4.59 0) scale(0.7 1)" font-size="11.8" fill="#161616" stroke="#161616">33</text><path d="M630.6 367.6V455.4M608 439.4H634" fill="none" stroke="#333" stroke-width="0.9"/><polygon points="630.6,415.9 629.1,408.9 632.1,408.9" fill="#111"/><polygon points="630.6,439.4 629.1,446.4 632.1,446.4" fill="#111"/><text transform="translate(626.2 389.2) rotate(-90) translate(0 0) scale(0.7 1)" font-size="11.8" fill="#161616" stroke="#161616">22.9</text><path d="M496 365H533M496 515.2H535.6M507.6 365V515.2" fill="none" stroke="#333" stroke-width="0.9"/><polygon points="507.6,365 506.1,373 509.1,373" fill="#111"/><polygon points="507.6,515.2 506.1,507.2 509.1,507.2" fill="#111"/><text transform="translate(503.2 440.4) rotate(-90) translate(-6.89 0) scale(0.7 1)" font-size="11.8" fill="#161616" stroke="#161616">146</text><path d="M564.4 412.2H577.2M564.4 466.3H577.2M568 412.2V466.3" fill="none" stroke="#333" stroke-width="0.9"/><polygon points="568,412.2 566.5,419.4 569.5,419.4" fill="#111"/><polygon points="568,466.3 566.5,459.1 569.5,459.1" fill="#111"/><text transform="translate(563.8 439.2) rotate(-90) translate(-2.75 0) scale(0.7 1)" font-size="11.8" fill="#161616" stroke="#161616">A</text><path d="M582.2 471.4V548M609 471.4V548M578.4 450V572.4M612.8 450V572.4M582.2 545.3H609M578.4 569.6H612.8" fill="none" stroke="#333" stroke-width="0.9"/><polygon points="582.2,545.3 588.7,543.8 588.7,546.8" fill="#111"/><polygon points="609,545.3 602.5,543.8 602.5,546.8" fill="#111"/><polygon points="578.4,569.6 584.9,568.1 584.9,571.1" fill="#111"/><polygon points="612.8,569.6 606.3,568.1 606.3,571.1" fill="#111"/><text transform="translate(595.2 540.6) translate(-2.75 0) scale(0.7 1)" font-size="11.8" fill="#161616" stroke="#161616">B</text><text transform="translate(595.4 565.4) translate(-2.98 0) scale(0.7 1)" font-size="11.8" fill="#161616" stroke="#161616">D</text><path d="M707.5 404.5H733M707.5 427.3H733M729 388.6V497" fill="none" stroke="#333" stroke-width="0.9"/><polygon points="729,404.5 727.5,397.5 730.5,397.5" fill="#111"/><polygon points="729,427.3 727.5,434.3 730.5,434.3" fill="#111"/><text transform="translate(722.8 493.6) rotate(-90) translate(0 0) scale(0.71 1)" font-size="11.6" fill="#161616" stroke="#161616">ø 22.22</text><text transform="translate(716.7 463.7) rotate(-90) translate(0 0) scale(0.74 1)" font-size="7.4" fill="#161616" stroke="#161616">0</text><text transform="translate(725.1 465.1) rotate(-90) translate(0 0) scale(0.73 1)" font-size="7.4" fill="#161616" stroke="#161616">−0.03</text></g>
</g>
<g id="table">
<rect x="12.1" y="669.6" width="724.5" height="51.8" fill="#e5e5e5"/>
<rect x="12.1" y="721.4" width="724.5" height="20.5" fill="#6d6d6d"/>
<rect x="12.1" y="741.9" width="724.5" height="20.47" fill="#e7e7e7"/>
<rect x="12.1" y="762.37" width="724.5" height="20.47" fill="#c3c3c3"/>
<rect x="12.1" y="782.84" width="724.5" height="20.47" fill="#e7e7e7"/>
<rect x="12.1" y="803.31" width="724.5" height="20.47" fill="#c3c3c3"/>
<rect x="12.1" y="823.78" width="724.5" height="20.47" fill="#e7e7e7"/>
<rect x="12.1" y="844.25" width="724.5" height="20.47" fill="#c3c3c3"/>
<rect x="12.1" y="864.72" width="724.5" height="20.47" fill="#e7e7e7"/>
<rect x="12.1" y="885.19" width="724.5" height="20.47" fill="#c3c3c3"/>
<rect x="12.1" y="905.66" width="724.5" height="20.47" fill="#e7e7e7"/>
<rect x="12.1" y="926.13" width="724.5" height="20.47" fill="#c3c3c3"/>
<rect x="12.1" y="946.6" width="724.5" height="20.47" fill="#e7e7e7"/>
<path d="M12.1 741.9H736.6M12.1 762.37H736.6M12.1 782.84H736.6M12.1 803.31H736.6M12.1 823.78H736.6M12.1 844.25H736.6M12.1 864.72H736.6M12.1 885.19H736.6M12.1 905.66H736.6M12.1 926.13H736.6M12.1 946.6H736.6M12.1 967.07H736.6M12.1 721.4H736.6" stroke="#333" stroke-width="1" fill="none"/>
<path d="M106.6 669.6V967.07M193 669.6V967.07M340.5 669.6V967.07M407.7 669.6V967.07M473.3 669.6V967.07" stroke="#2b2b2b" stroke-width="1.5" fill="none"/>
<path d="M242.2 707V967.07M291.6 707V967.07M502.5 707V967.07M531.9 707V967.07M561.4 707V967.07M590.7 707V967.07M619.9 707V967.07M649 707V967.07M678.1 707V967.07M707.2 707V967.07" stroke="#2b2b2b" stroke-width="1.1" fill="none"/>
<path d="M12.1 669.6H736.6V967.07H12.1Z" stroke="#2b2b2b" stroke-width="1.4" fill="none"/>
<text transform="translate(53.78 682.6) scale(0.82 1)" font-size="9.5" fill="#1c1c1c" stroke="#1c1c1c">规格</text>
<text transform="translate(61.65 696.6) translate(-9.03 0) scale(0.7 1)" font-size="11.6" fill="#1c1c1c" stroke="#1c1c1c">Type</text>
<text transform="translate(143.43 682.6) scale(0.82 1)" font-size="9.5" fill="#1c1c1c" stroke="#1c1c1c">排量</text>
<text transform="translate(148.3 696.6) translate(-24.6 0) scale(0.7 1)" font-size="11.6" fill="#1c1c1c" stroke="#1c1c1c">Displacement</text>
<text transform="translate(251.01 682.6) scale(0.82 1)" font-size="9.5" fill="#1c1c1c" stroke="#1c1c1c">最大压力</text>
<text transform="translate(262.25 696.6) translate(-24.59 0) scale(0.7 1)" font-size="11.6" fill="#1c1c1c" stroke="#1c1c1c">Max pressure</text>
<text transform="translate(359.06 682.6) scale(0.82 1)" font-size="9.5" fill="#1c1c1c" stroke="#1c1c1c">最高转速</text>
<text transform="translate(370.8 696.6) translate(-20.99 0) scale(0.7 1)" font-size="11.6" fill="#1c1c1c" stroke="#1c1c1c">Max. speed</text>
<text transform="translate(424.76 682.6) scale(0.82 1)" font-size="9.5" fill="#1c1c1c" stroke="#1c1c1c">最低转速</text>
<text transform="translate(437.1 696.6) translate(-19.86 0) scale(0.7 1)" font-size="11.6" fill="#1c1c1c" stroke="#1c1c1c">Min. speed</text>
<text transform="translate(594.08 682.6) scale(0.82 1)" font-size="9.5" fill="#1c1c1c" stroke="#1c1c1c">尺寸</text>
<text transform="translate(600.05 696.6) translate(-21.21 0) scale(0.7 1)" font-size="11.6" fill="#1c1c1c" stroke="#1c1c1c">Dimensions</text>
<text transform="translate(217.6 718.2) translate(-5.11 0) scale(0.72 1)" font-size="11.6" fill="#1c1c1c" stroke="#1c1c1c">P1</text>
<text transform="translate(266.9 718.2) translate(-5.11 0) scale(0.72 1)" font-size="11.6" fill="#1c1c1c" stroke="#1c1c1c">P2</text>
<text transform="translate(316.05 718.2) translate(-5.11 0) scale(0.72 1)" font-size="11.6" fill="#1c1c1c" stroke="#1c1c1c">P3</text>
<text transform="translate(487.9 718.2) translate(-3.48 0) scale(0.72 1)" font-size="11.6" fill="#1c1c1c" stroke="#1c1c1c">M</text>
<text transform="translate(517.2 718.2) translate(-2.32 0) scale(0.72 1)" font-size="11.6" fill="#1c1c1c" stroke="#1c1c1c">L</text>
<text transform="translate(546.65 718.2) translate(-2.79 0) scale(0.72 1)" font-size="11.6" fill="#1c1c1c" stroke="#1c1c1c">A</text>
<text transform="translate(576.05 718.2) translate(-2.79 0) scale(0.72 1)" font-size="11.6" fill="#1c1c1c" stroke="#1c1c1c">B</text>
<text transform="translate(605.3 718.2) translate(-3.02 0) scale(0.72 1)" font-size="11.6" fill="#1c1c1c" stroke="#1c1c1c">C</text>
<text transform="translate(634.45 718.2) translate(-3.02 0) scale(0.72 1)" font-size="11.6" fill="#1c1c1c" stroke="#1c1c1c">D</text>
<text transform="translate(663.55 718.2) translate(-2.32 0) scale(0.72 1)" font-size="11.6" fill="#1c1c1c" stroke="#1c1c1c">a</text>
<text transform="translate(692.65 718.2) translate(-2.32 0) scale(0.72 1)" font-size="11.6" fill="#1c1c1c" stroke="#1c1c1c">b</text>
<text transform="translate(721.9 718.2) translate(-2.32 0) scale(0.72 1)" font-size="11.6" fill="#1c1c1c" stroke="#1c1c1c">d</text>
<text transform="translate(129.2 736.7) translate(0 0) scale(0.66 1)" font-size="11.6" fill="#e4e4e4" stroke="#e4e4e4">(cm</text>
<text transform="translate(141.96 732.3) translate(0 0) scale(0.66 1)" font-size="6.5" fill="#e4e4e4" stroke="#e4e4e4">3</text>
<text transform="translate(144.36 736.7) translate(0 0) scale(0.66 1)" font-size="11.6" fill="#e4e4e4" stroke="#e4e4e4">/rev)</text>
<text transform="translate(217.6 736.7) translate(-5.87 0) scale(0.7 1)" font-size="11.6" fill="#e4e4e4" stroke="#e4e4e4">bar</text>
<text transform="translate(266.9 736.7) translate(-5.87 0) scale(0.7 1)" font-size="11.6" fill="#e4e4e4" stroke="#e4e4e4">bar</text>
<text transform="translate(316.05 736.7) translate(-5.87 0) scale(0.7 1)" font-size="11.6" fill="#e4e4e4" stroke="#e4e4e4">bar</text>
<text transform="translate(373.1 736.7) translate(-11.73 0) scale(0.7 1)" font-size="11.6" fill="#e4e4e4" stroke="#e4e4e4">(r/min)</text>
<text transform="translate(439 736.7) translate(-11.73 0) scale(0.7 1)" font-size="11.6" fill="#e4e4e4" stroke="#e4e4e4">(r/min)</text>
<text transform="translate(487.9 736.7) translate(-6.76 0) scale(0.7 1)" font-size="11.6" fill="#e4e4e4" stroke="#e4e4e4">mm</text>
<text transform="translate(517.2 736.7) translate(-6.76 0) scale(0.7 1)" font-size="11.6" fill="#e4e4e4" stroke="#e4e4e4">mm</text>
<text transform="translate(546.65 736.7) translate(-6.76 0) scale(0.7 1)" font-size="11.6" fill="#e4e4e4" stroke="#e4e4e4">mm</text>
<text transform="translate(576.05 736.7) translate(-6.76 0) scale(0.7 1)" font-size="11.6" fill="#e4e4e4" stroke="#e4e4e4">mm</text>
<text transform="translate(605.3 736.7) translate(-8.8 0) scale(0.7 1)" font-size="11.6" fill="#e4e4e4" stroke="#e4e4e4">UNC</text>
<text transform="translate(634.45 736.7) translate(-6.76 0) scale(0.7 1)" font-size="11.6" fill="#e4e4e4" stroke="#e4e4e4">mm</text>
<text transform="translate(663.55 736.7) translate(-6.76 0) scale(0.7 1)" font-size="11.6" fill="#e4e4e4" stroke="#e4e4e4">mm</text>
<text transform="translate(692.65 736.7) translate(-6.76 0) scale(0.7 1)" font-size="11.6" fill="#e4e4e4" stroke="#e4e4e4">mm</text>
<text transform="translate(721.9 736.7) translate(-6.76 0) scale(0.7 1)" font-size="11.6" fill="#e4e4e4" stroke="#e4e4e4">mm</text>
<text transform="translate(59.35 756.8) translate(-25.82 0) scale(0.71 1)" font-size="11.4" fill="#1c1c1c" stroke="#1c1c1c">BHP3A0-D-20</text>
<text transform="translate(146.5 756.8) translate(-4.53 0) scale(0.71 1)" font-size="11.4" fill="#1c1c1c" stroke="#1c1c1c">20</text>
<text transform="translate(217.1 756.8) translate(-6.8 0) scale(0.71 1)" font-size="11.4" fill="#1c1c1c" stroke="#1c1c1c">250</text>
<text transform="translate(266.4 756.8) translate(-6.8 0) scale(0.71 1)" font-size="11.4" fill="#1c1c1c" stroke="#1c1c1c">265</text>
<text transform="translate(315.55 756.8) translate(-6.8 0) scale(0.71 1)" font-size="11.4" fill="#1c1c1c" stroke="#1c1c1c">280</text>
<text transform="translate(372.6 756.8) translate(-9.07 0) scale(0.71 1)" font-size="11.4" fill="#1c1c1c" stroke="#1c1c1c">3500</text>
<text transform="translate(438.9 756.8) translate(-6.8 0) scale(0.71 1)" font-size="11.4" fill="#1c1c1c" stroke="#1c1c1c">600</text>
<text transform="translate(486.4 756.8) translate(-6.8 0) scale(0.71 1)" font-size="11.4" fill="#1c1c1c" stroke="#1c1c1c">128</text>
<text transform="translate(515.7 756.8) translate(-4.53 0) scale(0.71 1)" font-size="11.4" fill="#1c1c1c" stroke="#1c1c1c">63</text>
<text transform="translate(544.65 756.8) translate(-7.93 0) scale(0.71 1)" font-size="11.4" fill="#1c1c1c" stroke="#1c1c1c">52.4</text>
<text transform="translate(573.95 756.8) translate(-7.93 0) scale(0.71 1)" font-size="11.4" fill="#1c1c1c" stroke="#1c1c1c">26.2</text>
<text transform="translate(603 755.6) translate(-5.67 0) scale(0.71 1)" font-size="11.4" fill="#1c1c1c" stroke="#1c1c1c">3/8</text>
<text transform="translate(632.35 756.8) translate(-4.53 0) scale(0.71 1)" font-size="11.4" fill="#1c1c1c" stroke="#1c1c1c">27</text>
<text transform="translate(661.65 756.8) translate(-7.93 0) scale(0.71 1)" font-size="11.4" fill="#1c1c1c" stroke="#1c1c1c">47.6</text>
<text transform="translate(691.05 756.8) translate(-7.93 0) scale(0.71 1)" font-size="11.4" fill="#1c1c1c" stroke="#1c1c1c">22.2</text>
<text transform="translate(720.65 756.8) translate(-4.53 0) scale(0.71 1)" font-size="11.4" fill="#1c1c1c" stroke="#1c1c1c">19</text>
<text transform="translate(59.35 777.27) translate(-25.82 0) scale(0.71 1)" font-size="11.4" fill="#1c1c1c" stroke="#1c1c1c">BHP3A0-D-22</text>
<text transform="translate(146.5 777.27) translate(-4.53 0) scale(0.71 1)" font-size="11.4" fill="#1c1c1c" stroke="#1c1c1c">22</text>
<text transform="translate(217.1 777.27) translate(-6.8 0) scale(0.71 1)" font-size="11.4" fill="#1c1c1c" stroke="#1c1c1c">250</text>
<text transform="translate(266.4 777.27) translate(-6.8 0) scale(0.71 1)" font-size="11.4" fill="#1c1c1c" stroke="#1c1c1c">265</text>
<text transform="translate(315.55 777.27) translate(-6.8 0) scale(0.71 1)" font-size="11.4" fill="#1c1c1c" stroke="#1c1c1c">280</text>
<text transform="translate(372.6 777.27) translate(-9.07 0) scale(0.71 1)" font-size="11.4" fill="#1c1c1c" stroke="#1c1c1c">3500</text>
<text transform="translate(438.9 777.27) translate(-6.8 0) scale(0.71 1)" font-size="11.4" fill="#1c1c1c" stroke="#1c1c1c">600</text>
<text transform="translate(486.4 777.27) translate(-6.8 0) scale(0.71 1)" font-size="11.4" fill="#1c1c1c" stroke="#1c1c1c">130</text>
<text transform="translate(515.7 777.27) translate(-4.53 0) scale(0.71 1)" font-size="11.4" fill="#1c1c1c" stroke="#1c1c1c">64</text>
<text transform="translate(544.65 777.27) translate(-7.93 0) scale(0.71 1)" font-size="11.4" fill="#1c1c1c" stroke="#1c1c1c">52.4</text>
<text transform="translate(573.95 777.27) translate(-7.93 0) scale(0.71 1)" font-size="11.4" fill="#1c1c1c" stroke="#1c1c1c">26.2</text>
<text transform="translate(603 776.07) translate(-5.67 0) scale(0.71 1)" font-size="11.4" fill="#1c1c1c" stroke="#1c1c1c">3/8</text>
<text transform="translate(632.35 777.27) translate(-4.53 0) scale(0.71 1)" font-size="11.4" fill="#1c1c1c" stroke="#1c1c1c">27</text>
<text transform="translate(661.65 777.27) translate(-7.93 0) scale(0.71 1)" font-size="11.4" fill="#1c1c1c" stroke="#1c1c1c">47.6</text>
<text transform="translate(691.05 777.27) translate(-7.93 0) scale(0.71 1)" font-size="11.4" fill="#1c1c1c" stroke="#1c1c1c">22.2</text>
<text transform="translate(720.65 777.27) translate(-4.53 0) scale(0.71 1)" font-size="11.4" fill="#1c1c1c" stroke="#1c1c1c">19</text>
<text transform="translate(59.35 797.74) translate(-25.82 0) scale(0.71 1)" font-size="11.4" fill="#1c1c1c" stroke="#1c1c1c">BHP3A0-D-26</text>
<text transform="translate(146.5 797.74) translate(-4.53 0) scale(0.71 1)" font-size="11.4" fill="#1c1c1c" stroke="#1c1c1c">26</text>
<text transform="translate(217.1 797.74) translate(-6.8 0) scale(0.71 1)" font-size="11.4" fill="#1c1c1c" stroke="#1c1c1c">250</text>
<text transform="translate(266.4 797.74) translate(-6.8 0) scale(0.71 1)" font-size="11.4" fill="#1c1c1c" stroke="#1c1c1c">265</text>
<text transform="translate(315.55 797.74) translate(-6.8 0) scale(0.71 1)" font-size="11.4" fill="#1c1c1c" stroke="#1c1c1c">280</text>
<text transform="translate(372.6 797.74) translate(-9.07 0) scale(0.71 1)" font-size="11.4" fill="#1c1c1c" stroke="#1c1c1c">3000</text>
<text transform="translate(438.9 797.74) translate(-6.8 0) scale(0.71 1)" font-size="11.4" fill="#1c1c1c" stroke="#1c1c1c">600</text>
<text transform="translate(486.4 797.74) translate(-6.8 0) scale(0.71 1)" font-size="11.4" fill="#1c1c1c" stroke="#1c1c1c">133</text>
<text transform="translate(515.7 797.74) translate(-4.53 0) scale(0.71 1)" font-size="11.4" fill="#1c1c1c" stroke="#1c1c1c">65</text>
<text transform="translate(544.65 797.74) translate(-7.93 0) scale(0.71 1)" font-size="11.4" fill="#1c1c1c" stroke="#1c1c1c">52.4</text>
<text transform="translate(573.95 797.74) translate(-7.93 0) scale(0.71 1)" font-size="11.4" fill="#1c1c1c" stroke="#1c1c1c">26.2</text>
<text transform="translate(603 796.54) translate(-5.67 0) scale(0.71 1)" font-size="11.4" fill="#1c1c1c" stroke="#1c1c1c">3/8</text>
<text transform="translate(632.35 797.74) translate(-4.53 0) scale(0.71 1)" font-size="11.4" fill="#1c1c1c" stroke="#1c1c1c">27</text>
<text transform="translate(661.65 797.74) translate(-7.93 0) scale(0.71 1)" font-size="11.4" fill="#1c1c1c" stroke="#1c1c1c">47.6</text>
<text transform="translate(691.05 797.74) translate(-7.93 0) scale(0.71 1)" font-size="11.4" fill="#1c1c1c" stroke="#1c1c1c">22.2</text>
<text transform="translate(720.65 797.74) translate(-4.53 0) scale(0.71 1)" font-size="11.4" fill="#1c1c1c" stroke="#1c1c1c">19</text>
<text transform="translate(59.35 818.21) translate(-25.82 0) scale(0.71 1)" font-size="11.4" fill="#1c1c1c" stroke="#1c1c1c">BHP3A0-D-33</text>
<text transform="translate(146.5 818.21) translate(-4.53 0) scale(0.71 1)" font-size="11.4" fill="#1c1c1c" stroke="#1c1c1c">33</text>
<text transform="translate(217.1 818.21) translate(-6.8 0) scale(0.71 1)" font-size="11.4" fill="#1c1c1c" stroke="#1c1c1c">230</text>
<text transform="translate(266.4 818.21) translate(-6.8 0) scale(0.71 1)" font-size="11.4" fill="#1c1c1c" stroke="#1c1c1c">250</text>
<text transform="translate(315.55 818.21) translate(-6.8 0) scale(0.71 1)" font-size="11.4" fill="#1c1c1c" stroke="#1c1c1c">270</text>
<text transform="translate(372.6 818.21) translate(-9.07 0) scale(0.71 1)" font-size="11.4" fill="#1c1c1c" stroke="#1c1c1c">3000</text>
<text transform="translate(438.9 818.21) translate(-6.8 0) scale(0.71 1)" font-size="11.4" fill="#1c1c1c" stroke="#1c1c1c">500</text>
<text transform="translate(486.4 818.21) translate(-6.8 0) scale(0.71 1)" font-size="11.4" fill="#1c1c1c" stroke="#1c1c1c">139</text>
<text transform="translate(515.7 818.21) translate(-4.53 0) scale(0.71 1)" font-size="11.4" fill="#1c1c1c" stroke="#1c1c1c">68</text>
<text transform="translate(544.65 818.21) translate(-7.93 0) scale(0.71 1)" font-size="11.4" fill="#1c1c1c" stroke="#1c1c1c">52.4</text>
<text transform="translate(573.95 818.21) translate(-7.93 0) scale(0.71 1)" font-size="11.4" fill="#1c1c1c" stroke="#1c1c1c">26.2</text>
<text transform="translate(603 817.01) translate(-5.67 0) scale(0.71 1)" font-size="11.4" fill="#1c1c1c" stroke="#1c1c1c">3/8</text>
<text transform="translate(632.35 818.21) translate(-4.53 0) scale(0.71 1)" font-size="11.4" fill="#1c1c1c" stroke="#1c1c1c">27</text>
<text transform="translate(661.65 818.21) translate(-7.93 0) scale(0.71 1)" font-size="11.4" fill="#1c1c1c" stroke="#1c1c1c">47.6</text>
<text transform="translate(691.05 818.21) translate(-7.93 0) scale(0.71 1)" font-size="11.4" fill="#1c1c1c" stroke="#1c1c1c">22.2</text>
<text transform="translate(720.65 818.21) translate(-4.53 0) scale(0.71 1)" font-size="11.4" fill="#1c1c1c" stroke="#1c1c1c">19</text>
<text transform="translate(59.35 838.68) translate(-25.82 0) scale(0.71 1)" font-size="11.4" fill="#1c1c1c" stroke="#1c1c1c">BHP3A0-D-39</text>
<text transform="translate(146.5 838.68) translate(-4.53 0) scale(0.71 1)" font-size="11.4" fill="#1c1c1c" stroke="#1c1c1c">39</text>
<text transform="translate(217.1 838.68) translate(-6.8 0) scale(0.71 1)" font-size="11.4" fill="#1c1c1c" stroke="#1c1c1c">230</text>
<text transform="translate(266.4 838.68) translate(-6.8 0) scale(0.71 1)" font-size="11.4" fill="#1c1c1c" stroke="#1c1c1c">250</text>
<text transform="translate(315.55 838.68) translate(-6.8 0) scale(0.71 1)" font-size="11.4" fill="#1c1c1c" stroke="#1c1c1c">270</text>
<text transform="translate(372.6 838.68) translate(-9.07 0) scale(0.71 1)" font-size="11.4" fill="#1c1c1c" stroke="#1c1c1c">3000</text>
<text transform="translate(438.9 838.68) translate(-6.8 0) scale(0.71 1)" font-size="11.4" fill="#1c1c1c" stroke="#1c1c1c">500</text>
<text transform="translate(486.4 838.68) translate(-6.8 0) scale(0.71 1)" font-size="11.4" fill="#1c1c1c" stroke="#1c1c1c">146</text>
<text transform="translate(515.7 838.68) translate(-4.53 0) scale(0.71 1)" font-size="11.4" fill="#1c1c1c" stroke="#1c1c1c">72</text>
<text transform="translate(544.65 838.68) translate(-7.93 0) scale(0.71 1)" font-size="11.4" fill="#1c1c1c" stroke="#1c1c1c">52.4</text>
<text transform="translate(573.95 838.68) translate(-7.93 0) scale(0.71 1)" font-size="11.4" fill="#1c1c1c" stroke="#1c1c1c">26.2</text>
<text transform="translate(603 837.48) translate(-5.67 0) scale(0.71 1)" font-size="11.4" fill="#1c1c1c" stroke="#1c1c1c">3/8</text>
<text transform="translate(632.35 838.68) translate(-4.53 0) scale(0.71 1)" font-size="11.4" fill="#1c1c1c" stroke="#1c1c1c">27</text>
<text transform="translate(661.65 838.68) translate(-7.93 0) scale(0.71 1)" font-size="11.4" fill="#1c1c1c" stroke="#1c1c1c">47.6</text>
<text transform="translate(691.05 838.68) translate(-7.93 0) scale(0.71 1)" font-size="11.4" fill="#1c1c1c" stroke="#1c1c1c">22.2</text>
<text transform="translate(720.65 838.68) translate(-4.53 0) scale(0.71 1)" font-size="11.4" fill="#1c1c1c" stroke="#1c1c1c">19</text>
<text transform="translate(59.35 859.15) translate(-25.82 0) scale(0.71 1)" font-size="11.4" fill="#1c1c1c" stroke="#1c1c1c">BHP3A0-D-46</text>
<text transform="translate(146.5 859.15) translate(-4.53 0) scale(0.71 1)" font-size="11.4" fill="#1c1c1c" stroke="#1c1c1c">46</text>
<text transform="translate(217.1 859.15) translate(-6.8 0) scale(0.71 1)" font-size="11.4" fill="#1c1c1c" stroke="#1c1c1c">230</text>
<text transform="translate(266.4 859.15) translate(-6.8 0) scale(0.71 1)" font-size="11.4" fill="#1c1c1c" stroke="#1c1c1c">250</text>
<text transform="translate(315.55 859.15) translate(-6.8 0) scale(0.71 1)" font-size="11.4" fill="#1c1c1c" stroke="#1c1c1c">270</text>
<text transform="translate(372.6 859.15) translate(-9.07 0) scale(0.71 1)" font-size="11.4" fill="#1c1c1c" stroke="#1c1c1c">3000</text>
<text transform="translate(438.9 859.15) translate(-6.8 0) scale(0.71 1)" font-size="11.4" fill="#1c1c1c" stroke="#1c1c1c">500</text>
<text transform="translate(486.4 859.15) translate(-6.8 0) scale(0.71 1)" font-size="11.4" fill="#1c1c1c" stroke="#1c1c1c">152</text>
<text transform="translate(515.7 859.15) translate(-4.53 0) scale(0.71 1)" font-size="11.4" fill="#1c1c1c" stroke="#1c1c1c">75</text>
<text transform="translate(544.65 859.15) translate(-7.93 0) scale(0.71 1)" font-size="11.4" fill="#1c1c1c" stroke="#1c1c1c">52.4</text>
<text transform="translate(573.95 859.15) translate(-7.93 0) scale(0.71 1)" font-size="11.4" fill="#1c1c1c" stroke="#1c1c1c">26.2</text>
<text transform="translate(603 857.95) translate(-5.67 0) scale(0.71 1)" font-size="11.4" fill="#1c1c1c" stroke="#1c1c1c">3/8</text>
<text transform="translate(632.35 859.15) translate(-4.53 0) scale(0.71 1)" font-size="11.4" fill="#1c1c1c" stroke="#1c1c1c">27</text>
<text transform="translate(661.65 859.15) translate(-7.93 0) scale(0.71 1)" font-size="11.4" fill="#1c1c1c" stroke="#1c1c1c">47.6</text>
<text transform="translate(691.05 859.15) translate(-7.93 0) scale(0.71 1)" font-size="11.4" fill="#1c1c1c" stroke="#1c1c1c">22.2</text>
<text transform="translate(720.65 859.15) translate(-4.53 0) scale(0.71 1)" font-size="11.4" fill="#1c1c1c" stroke="#1c1c1c">19</text>
<text transform="translate(59.35 879.62) translate(-25.82 0) scale(0.71 1)" font-size="11.4" fill="#1c1c1c" stroke="#1c1c1c">BHP3A0-D-50</text>
<text transform="translate(146.5 879.62) translate(-4.53 0) scale(0.71 1)" font-size="11.4" fill="#1c1c1c" stroke="#1c1c1c">50</text>
<text transform="translate(217.1 879.62) translate(-6.8 0) scale(0.71 1)" font-size="11.4" fill="#1c1c1c" stroke="#1c1c1c">220</text>
<text transform="translate(266.4 879.62) translate(-6.8 0) scale(0.71 1)" font-size="11.4" fill="#1c1c1c" stroke="#1c1c1c">240</text>
<text transform="translate(315.55 879.62) translate(-6.8 0) scale(0.71 1)" font-size="11.4" fill="#1c1c1c" stroke="#1c1c1c">260</text>
<text transform="translate(372.6 879.62) translate(-9.07 0) scale(0.71 1)" font-size="11.4" fill="#1c1c1c" stroke="#1c1c1c">3000</text>
<text transform="translate(438.9 879.62) translate(-6.8 0) scale(0.71 1)" font-size="11.4" fill="#1c1c1c" stroke="#1c1c1c">500</text>
<text transform="translate(486.4 879.62) translate(-6.8 0) scale(0.71 1)" font-size="11.4" fill="#1c1c1c" stroke="#1c1c1c">156</text>
<text transform="translate(515.7 879.62) translate(-4.53 0) scale(0.71 1)" font-size="11.4" fill="#1c1c1c" stroke="#1c1c1c">77</text>
<text transform="translate(544.65 879.62) translate(-7.93 0) scale(0.71 1)" font-size="11.4" fill="#1c1c1c" stroke="#1c1c1c">52.4</text>
<text transform="translate(573.95 879.62) translate(-7.93 0) scale(0.71 1)" font-size="11.4" fill="#1c1c1c" stroke="#1c1c1c">26.2</text>
<text transform="translate(603 878.42) translate(-5.67 0) scale(0.71 1)" font-size="11.4" fill="#1c1c1c" stroke="#1c1c1c">3/8</text>
<text transform="translate(632.35 879.62) translate(-4.53 0) scale(0.71 1)" font-size="11.4" fill="#1c1c1c" stroke="#1c1c1c">27</text>
<text transform="translate(661.65 879.62) translate(-7.93 0) scale(0.71 1)" font-size="11.4" fill="#1c1c1c" stroke="#1c1c1c">47.6</text>
<text transform="translate(691.05 879.62) translate(-7.93 0) scale(0.71 1)" font-size="11.4" fill="#1c1c1c" stroke="#1c1c1c">22.2</text>
<text transform="translate(720.65 879.62) translate(-4.53 0) scale(0.71 1)" font-size="11.4" fill="#1c1c1c" stroke="#1c1c1c">19</text>
<text transform="translate(59.35 900.09) translate(-25.82 0) scale(0.71 1)" font-size="11.4" fill="#1c1c1c" stroke="#1c1c1c">BHP3A0-D-52</text>
<text transform="translate(146.5 900.09) translate(-4.53 0) scale(0.71 1)" font-size="11.4" fill="#1c1c1c" stroke="#1c1c1c">52</text>
<text transform="translate(217.1 900.09) translate(-6.8 0) scale(0.71 1)" font-size="11.4" fill="#1c1c1c" stroke="#1c1c1c">220</text>
<text transform="translate(266.4 900.09) translate(-6.8 0) scale(0.71 1)" font-size="11.4" fill="#1c1c1c" stroke="#1c1c1c">240</text>
<text transform="translate(315.55 900.09) translate(-6.8 0) scale(0.71 1)" font-size="11.4" fill="#1c1c1c" stroke="#1c1c1c">260</text>
<text transform="translate(372.6 900.09) translate(-9.07 0) scale(0.71 1)" font-size="11.4" fill="#1c1c1c" stroke="#1c1c1c">3000</text>
<text transform="translate(438.9 900.09) translate(-6.8 0) scale(0.71 1)" font-size="11.4" fill="#1c1c1c" stroke="#1c1c1c">500</text>
<text transform="translate(486.4 900.09) translate(-6.8 0) scale(0.71 1)" font-size="11.4" fill="#1c1c1c" stroke="#1c1c1c">158</text>
<text transform="translate(515.7 900.09) translate(-4.53 0) scale(0.71 1)" font-size="11.4" fill="#1c1c1c" stroke="#1c1c1c">78</text>
<text transform="translate(544.65 900.09) translate(-7.93 0) scale(0.71 1)" font-size="11.4" fill="#1c1c1c" stroke="#1c1c1c">52.4</text>
<text transform="translate(573.95 900.09) translate(-7.93 0) scale(0.71 1)" font-size="11.4" fill="#1c1c1c" stroke="#1c1c1c">26.2</text>
<text transform="translate(603 898.89) translate(-5.67 0) scale(0.71 1)" font-size="11.4" fill="#1c1c1c" stroke="#1c1c1c">3/8</text>
<text transform="translate(632.35 900.09) translate(-4.53 0) scale(0.71 1)" font-size="11.4" fill="#1c1c1c" stroke="#1c1c1c">27</text>
<text transform="translate(661.65 900.09) translate(-7.93 0) scale(0.71 1)" font-size="11.4" fill="#1c1c1c" stroke="#1c1c1c">47.6</text>
<text transform="translate(691.05 900.09) translate(-7.93 0) scale(0.71 1)" font-size="11.4" fill="#1c1c1c" stroke="#1c1c1c">22.2</text>
<text transform="translate(720.65 900.09) translate(-4.53 0) scale(0.71 1)" font-size="11.4" fill="#1c1c1c" stroke="#1c1c1c">19</text>
<text transform="translate(59.35 920.56) translate(-25.82 0) scale(0.71 1)" font-size="11.4" fill="#1c1c1c" stroke="#1c1c1c">BHP3A0-D-55</text>
<text transform="translate(146.5 920.56) translate(-4.53 0) scale(0.71 1)" font-size="11.4" fill="#1c1c1c" stroke="#1c1c1c">55</text>
<text transform="translate(217.1 920.56) translate(-6.8 0) scale(0.71 1)" font-size="11.4" fill="#1c1c1c" stroke="#1c1c1c">200</text>
<text transform="translate(266.4 920.56) translate(-6.8 0) scale(0.71 1)" font-size="11.4" fill="#1c1c1c" stroke="#1c1c1c">230</text>
<text transform="translate(315.55 920.56) translate(-6.8 0) scale(0.71 1)" font-size="11.4" fill="#1c1c1c" stroke="#1c1c1c">250</text>
<text transform="translate(372.6 920.56) translate(-9.07 0) scale(0.71 1)" font-size="11.4" fill="#1c1c1c" stroke="#1c1c1c">2800</text>
<text transform="translate(438.9 920.56) translate(-6.8 0) scale(0.71 1)" font-size="11.4" fill="#1c1c1c" stroke="#1c1c1c">400</text>
<text transform="translate(486.4 920.56) translate(-6.8 0) scale(0.71 1)" font-size="11.4" fill="#1c1c1c" stroke="#1c1c1c">160</text>
<text transform="translate(515.7 920.56) translate(-4.53 0) scale(0.71 1)" font-size="11.4" fill="#1c1c1c" stroke="#1c1c1c">79</text>
<text transform="translate(544.65 920.56) translate(-7.93 0) scale(0.71 1)" font-size="11.4" fill="#1c1c1c" stroke="#1c1c1c">58.7</text>
<text transform="translate(573.95 920.56) translate(-7.93 0) scale(0.71 1)" font-size="11.4" fill="#1c1c1c" stroke="#1c1c1c">30.2</text>
<text transform="translate(603 919.36) translate(-7.93 0) scale(0.71 1)" font-size="11.4" fill="#1c1c1c" stroke="#1c1c1c">7/16</text>
<text transform="translate(632.35 920.56) translate(-4.53 0) scale(0.71 1)" font-size="11.4" fill="#1c1c1c" stroke="#1c1c1c">33</text>
<text transform="translate(661.65 920.56) translate(-7.93 0) scale(0.71 1)" font-size="11.4" fill="#1c1c1c" stroke="#1c1c1c">52.4</text>
<text transform="translate(691.05 920.56) translate(-7.93 0) scale(0.71 1)" font-size="11.4" fill="#1c1c1c" stroke="#1c1c1c">26.2</text>
<text transform="translate(720.65 920.56) translate(-4.53 0) scale(0.71 1)" font-size="11.4" fill="#1c1c1c" stroke="#1c1c1c">27</text>
<text transform="translate(59.35 941.03) translate(-25.82 0) scale(0.71 1)" font-size="11.4" fill="#1c1c1c" stroke="#1c1c1c">BHP3A0-D-63</text>
<text transform="translate(146.5 941.03) translate(-4.53 0) scale(0.71 1)" font-size="11.4" fill="#1c1c1c" stroke="#1c1c1c">63</text>
<text transform="translate(217.1 941.03) translate(-6.8 0) scale(0.71 1)" font-size="11.4" fill="#1c1c1c" stroke="#1c1c1c">200</text>
<text transform="translate(266.4 941.03) translate(-6.8 0) scale(0.71 1)" font-size="11.4" fill="#1c1c1c" stroke="#1c1c1c">230</text>
<text transform="translate(315.55 941.03) translate(-6.8 0) scale(0.71 1)" font-size="11.4" fill="#1c1c1c" stroke="#1c1c1c">250</text>
<text transform="translate(372.6 941.03) translate(-9.07 0) scale(0.71 1)" font-size="11.4" fill="#1c1c1c" stroke="#1c1c1c">2800</text>
<text transform="translate(438.9 941.03) translate(-6.8 0) scale(0.71 1)" font-size="11.4" fill="#1c1c1c" stroke="#1c1c1c">400</text>
<text transform="translate(486.4 941.03) translate(-6.8 0) scale(0.71 1)" font-size="11.4" fill="#1c1c1c" stroke="#1c1c1c">168</text>
<text transform="translate(515.7 941.03) translate(-4.53 0) scale(0.71 1)" font-size="11.4" fill="#1c1c1c" stroke="#1c1c1c">83</text>
<text transform="translate(544.65 941.03) translate(-7.93 0) scale(0.71 1)" font-size="11.4" fill="#1c1c1c" stroke="#1c1c1c">58.7</text>
<text transform="translate(573.95 941.03) translate(-7.93 0) scale(0.71 1)" font-size="11.4" fill="#1c1c1c" stroke="#1c1c1c">30.2</text>
<text transform="translate(603 939.83) translate(-7.93 0) scale(0.71 1)" font-size="11.4" fill="#1c1c1c" stroke="#1c1c1c">7/16</text>
<text transform="translate(632.35 941.03) translate(-4.53 0) scale(0.71 1)" font-size="11.4" fill="#1c1c1c" stroke="#1c1c1c">33</text>
<text transform="translate(661.65 941.03) translate(-7.93 0) scale(0.71 1)" font-size="11.4" fill="#1c1c1c" stroke="#1c1c1c">52.4</text>
<text transform="translate(691.05 941.03) translate(-7.93 0) scale(0.71 1)" font-size="11.4" fill="#1c1c1c" stroke="#1c1c1c">26.2</text>
<text transform="translate(720.65 941.03) translate(-4.53 0) scale(0.71 1)" font-size="11.4" fill="#1c1c1c" stroke="#1c1c1c">27</text>
<text transform="translate(59.35 961.5) translate(-25.82 0) scale(0.71 1)" font-size="11.4" fill="#1c1c1c" stroke="#1c1c1c">BHP3A0-D-71</text>
<text transform="translate(146.5 961.5) translate(-4.53 0) scale(0.71 1)" font-size="11.4" fill="#1c1c1c" stroke="#1c1c1c">71</text>
<text transform="translate(217.1 961.5) translate(-6.8 0) scale(0.71 1)" font-size="11.4" fill="#1c1c1c" stroke="#1c1c1c">180</text>
<text transform="translate(266.4 961.5) translate(-6.8 0) scale(0.71 1)" font-size="11.4" fill="#1c1c1c" stroke="#1c1c1c">200</text>
<text transform="translate(315.55 961.5) translate(-6.8 0) scale(0.71 1)" font-size="11.4" fill="#1c1c1c" stroke="#1c1c1c">220</text>
<text transform="translate(372.6 961.5) translate(-9.07 0) scale(0.71 1)" font-size="11.4" fill="#1c1c1c" stroke="#1c1c1c">2500</text>
<text transform="translate(438.9 961.5) translate(-6.8 0) scale(0.71 1)" font-size="11.4" fill="#1c1c1c" stroke="#1c1c1c">400</text>
<text transform="translate(486.4 961.5) translate(-6.8 0) scale(0.71 1)" font-size="11.4" fill="#1c1c1c" stroke="#1c1c1c">175</text>
<text transform="translate(515.7 961.5) translate(-4.53 0) scale(0.71 1)" font-size="11.4" fill="#1c1c1c" stroke="#1c1c1c">86</text>
<text transform="translate(544.65 961.5) translate(-7.93 0) scale(0.71 1)" font-size="11.4" fill="#1c1c1c" stroke="#1c1c1c">58.7</text>
<text transform="translate(573.95 961.5) translate(-7.93 0) scale(0.71 1)" font-size="11.4" fill="#1c1c1c" stroke="#1c1c1c">30.2</text>
<text transform="translate(603 960.3) translate(-7.93 0) scale(0.71 1)" font-size="11.4" fill="#1c1c1c" stroke="#1c1c1c">7/16</text>
<text transform="translate(632.35 961.5) translate(-4.53 0) scale(0.71 1)" font-size="11.4" fill="#1c1c1c" stroke="#1c1c1c">33</text>
<text transform="translate(661.65 961.5) translate(-7.93 0) scale(0.71 1)" font-size="11.4" fill="#1c1c1c" stroke="#1c1c1c">52.4</text>
<text transform="translate(691.05 961.5) translate(-7.93 0) scale(0.71 1)" font-size="11.4" fill="#1c1c1c" stroke="#1c1c1c">26.2</text>
<text transform="translate(720.65 961.5) translate(-4.53 0) scale(0.71 1)" font-size="11.4" fill="#1c1c1c" stroke="#1c1c1c">27</text>
</g>
<g id="wm">
<text x="124.5" y="364.8" font-size="133.5" font-weight="bold" textLength="498" lengthAdjust="spacingAndGlyphs" fill="none" stroke="#5f8fc2" style="stroke-width:.75px">CCLAIR</text>
<text x="27" y="678" font-size="135" font-weight="bold" letter-spacing="4" fill="none" stroke="#5f8fc2" style="stroke-width:.75px">昌林自动化</text>
<g filter="url(#hb)">
<text transform="translate(577.4 952.3) scale(0.95 1)" font-size="17.8" fill="#fff" style="stroke:#fff;stroke-width:5.6px;stroke-linejoin:round;opacity:.93">CCLair</text>
<text transform="translate(629.9 952.3) scale(0.78 1)" font-size="17.8" fill="#fff" style="stroke:#fff;stroke-width:5.4px;stroke-linejoin:round;opacity:.93">-</text>
<text transform="translate(633.4 953.2) scale(0.98 1)" font-size="17.2" fill="#fff" style="stroke:#fff;stroke-width:5.4px;stroke-linejoin:round;opacity:.93">昌林自动化</text>
</g>
<defs><filter id="hb" x="-5%" y="-30%" width="110%" height="160%"><feGaussianBlur stdDeviation=".6"/></filter></defs>
<text transform="translate(577.4 952.3) scale(0.95 1)" font-size="17.8" fill="#0a0a0a" style="stroke:#0a0a0a;stroke-width:.55px">CCLair</text>
<text transform="translate(629.9 952.3) scale(0.78 1)" font-size="17.8" fill="#0a0a0a">-</text>
<text transform="translate(633.4 953.2) scale(0.98 1)" font-size="17.2" fill="#0a0a0a" style="stroke:#0a0a0a;stroke-width:.4px">昌林自动化</text>
</g>
</svg>
</body></html>
